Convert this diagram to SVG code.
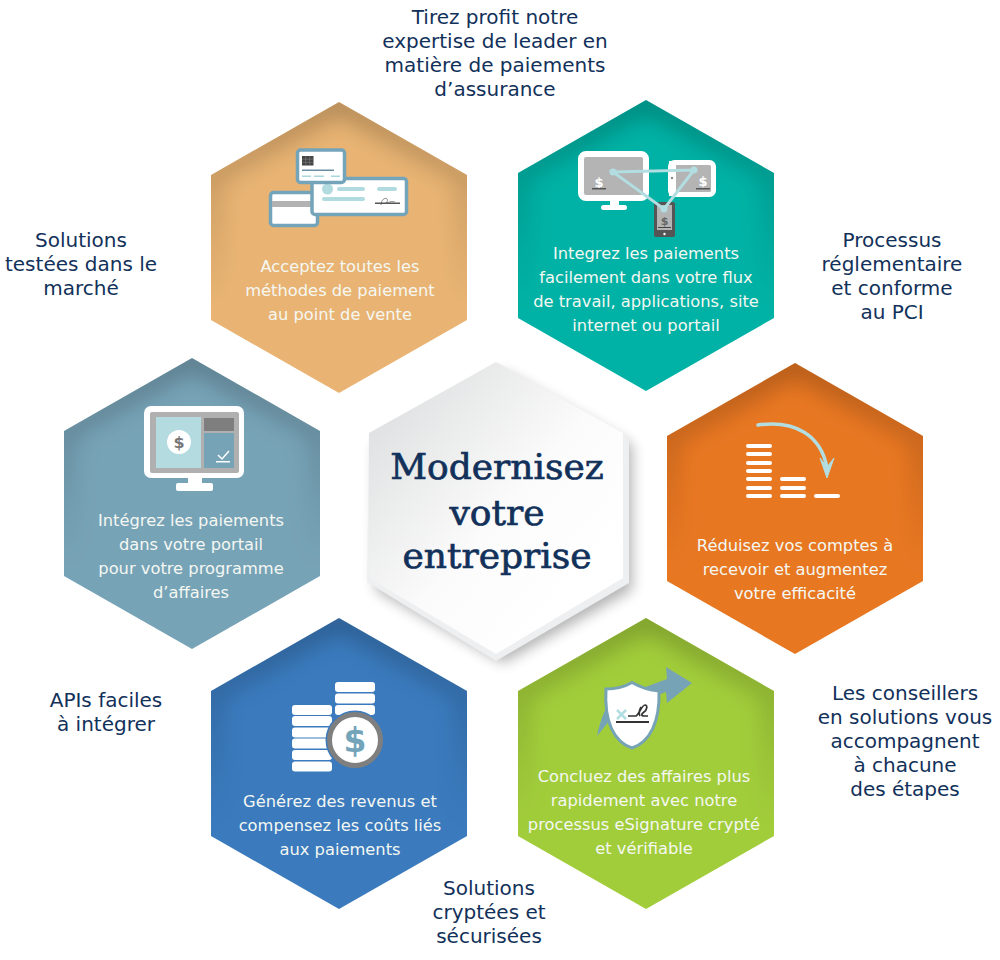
<svg xmlns="http://www.w3.org/2000/svg" width="1000" height="960" viewBox="0 0 1000 960">
<style>
.l{font-family:"DejaVu Sans",Verdana,sans-serif;font-size:20px;fill:#12315a;text-anchor:middle}
.t{font-family:"DejaVu Sans",Verdana,sans-serif;font-size:16.3px;fill:#f4f7f2;text-anchor:middle}
.c{font-family:"DejaVu Serif",serif;font-size:36px;fill:#12315a;stroke:#12315a;stroke-width:.7px;text-anchor:middle}
.d{font-family:"DejaVu Sans",sans-serif;font-weight:bold;text-anchor:middle}
.w{fill:#fff}
</style>
<defs>
<polygon id="hex" points="128,0 256,73 256,218 128,291 0,218 0,73"/>
<clipPath id="hc"><use href="#hex"/></clipPath>
<linearGradient id="edge" x1="0" y1="0" x2="0" y2="1"><stop offset="0" stop-color="#000" stop-opacity=".24"/><stop offset=".4" stop-color="#000" stop-opacity=".1"/><stop offset=".7" stop-color="#000" stop-opacity="0"/></linearGradient>
<filter id="bl" x="-20%" y="-20%" width="140%" height="140%"><feGaussianBlur stdDeviation="11"/></filter>
<linearGradient id="cg" x1="0.1" y1="0.1" x2="0.8" y2="0.8"><stop offset="0" stop-color="#dfe0e1"/><stop offset=".6" stop-color="#fbfbfb"/><stop offset="1" stop-color="#fff"/></linearGradient>
<filter id="sh" x="-20%" y="-20%" width="140%" height="140%"><feGaussianBlur stdDeviation="7"/></filter>
<g id="vig" clip-path="url(#hc)"><use href="#hex" fill="none" stroke="url(#edge)" stroke-width="24" filter="url(#bl)"/></g>
</defs>

<g id="connectors"/>

<g id="label-top"><text class="l" x="495" y="24">Tirez profit notre</text><text class="l" x="495" y="48">expertise de leader en</text><text class="l" x="495" y="72">matière de paiements</text><text class="l" x="495" y="96">d’assurance</text></g>
<g id="label-tl"><text class="l" x="81" y="247">Solutions</text><text class="l" x="81" y="271">testées dans le</text><text class="l" x="81" y="295">marché</text></g>
<g id="label-tr"><text class="l" x="892" y="247">Processus</text><text class="l" x="892" y="271">réglementaire</text><text class="l" x="892" y="295">et conforme</text><text class="l" x="892" y="319">au PCI</text></g>
<g id="label-bl"><text class="l" x="106" y="707">APIs faciles</text><text class="l" x="106" y="731">à intégrer</text></g>
<g id="label-br"><text class="l" x="905" y="700">Les conseillers</text><text class="l" x="905" y="724">en solutions vous</text><text class="l" x="905" y="748">accompagnent</text><text class="l" x="905" y="772">à chacune</text><text class="l" x="905" y="796">des étapes</text></g>
<g id="label-bottom"><text class="l" x="489" y="895">Solutions</text><text class="l" x="489" y="919">cryptées et</text><text class="l" x="489" y="943">sécurisées</text></g>

<g id="node-tan" transform="translate(211,102)">
<use href="#hex" fill="#e9b473"/><use href="#vig"/>
<g transform="translate(-211,-102)">
<rect x="270.500" y="192.500" width="47" height="33" rx="3" fill="#fff" stroke="#74a4ba" stroke-width="3.500"/><rect x="272" y="201" width="44" height="6" fill="#b2b2b2"/>
<rect x="312" y="178.500" width="94.500" height="36" rx="3" fill="#fff" stroke="#74a4ba" stroke-width="3.500"/>
<circle cx="327.500" cy="189" r="5.500" fill="#b2dbe0"/><rect x="337" y="187" width="28" height="4" rx="2" fill="#b2dbe0"/><rect x="377" y="187" width="20" height="4" rx="2" fill="#b2dbe0"/><rect x="322" y="197" width="43" height="4" rx="2" fill="#b2dbe0"/>
<rect x="375" y="202.500" width="25" height="1.500" fill="#555"/><path d="M381 205c0-5 4-8 6-6s-3 5 0 4 3-2 8-1" fill="none" stroke="#555" stroke-width=".7"/>
<rect x="297.500" y="150" width="47" height="32.500" rx="3" fill="#fff" stroke="#74a4ba" stroke-width="3.500"/>
<rect x="302" y="156" width="11.500" height="9.500" fill="#444"/><path d="M305.800 156v9.500M309.700 156v9.500M302 159.200h11.500M302 162.400h11.500" stroke="#888" stroke-width=".5"/><rect x="302" y="169.500" width="32" height="1.500" fill="#6a8fa5"/><rect x="302" y="175.500" width="9" height="1.500" fill="#a9d6dc"/><rect x="314" y="175.500" width="10" height="1.500" fill="#a9d6dc"/><rect x="331" y="175.500" width="9" height="1.500" fill="#a9d6dc"/>
</g>
<g transform="translate(-211,-102)"><text class="t" x="340" y="272">Acceptez toutes les</text><text class="t" x="340" y="296">méthodes de paiement</text><text class="t" x="340" y="320">au point de vente</text></g>
</g>

<g id="node-teal" transform="translate(518,100)">
<use href="#hex" fill="#00b2a5"/><use href="#vig"/>
<g transform="translate(-518,-100)">
<rect x="581" y="154" width="65" height="44" rx="5" fill="#b4b4b4" stroke="#fff" stroke-width="6"/><rect x="610" y="201" width="9" height="6" class="w"/><rect x="601" y="205" width="26" height="5" rx="2.500" class="w"/>
<text class="d" x="599" y="187" font-size="13" fill="#fff">$</text><rect x="592" y="188" width="14" height="1.500" fill="#555"/>
<rect x="670.500" y="162.500" width="43" height="32" rx="4" fill="#b4b4b4" stroke="#fff" stroke-width="5"/><rect x="669" y="161" width="7" height="35" class="w"/><circle cx="672" cy="178" r="1.200" fill="#888"/>
<text class="d" x="703" y="186" font-size="13" fill="#fff">$</text><rect x="696" y="188" width="14" height="1.500" fill="#555"/>
<rect x="654" y="202" width="21" height="35" rx="2" fill="#555"/><rect x="657" y="205" width="15" height="25" fill="#b4b4b4"/><circle cx="664.500" cy="234" r="1.200" class="w"/>
<text class="d" x="664.500" y="225" font-size="11" fill="#666">$</text><rect x="658" y="227" width="13" height="1" fill="#444"/>
<path d="M613 172L694 170L664 209Z" fill="none" stroke="#b2dde1" stroke-width="3"/><circle cx="613" cy="172" r="3.500" fill="#b2dde1"/><circle cx="694" cy="170" r="3.500" fill="#b2dde1"/><circle cx="664" cy="209" r="3.500" fill="#b2dde1"/>
</g>
<g transform="translate(-518,-100)"><text class="t" x="646" y="259">Integrez les paiements</text><text class="t" x="646" y="283">facilement dans votre flux</text><text class="t" x="646" y="307">de travail, applications, site</text><text class="t" x="646" y="331">internet ou portail</text></g>
</g>

<g id="node-slate" transform="translate(64,358)">
<use href="#hex" fill="#77a3b7"/><use href="#vig"/>
<g transform="translate(-64,-358)">
<rect x="144" y="406" width="100" height="72" rx="7" class="w"/>
<rect x="150" y="412" width="89" height="61" rx="2" fill="#b0b0b0"/>
<rect x="156" y="417" width="45" height="51" fill="#b3dbe0"/><rect x="204" y="418" width="30" height="13" fill="#7e7e7e"/><rect x="204" y="433" width="30" height="35" fill="#77a3b7"/>
<rect x="188" y="477" width="14" height="7" class="w"/><rect x="176" y="483" width="37" height="8" rx="2" class="w"/>
<circle cx="179" cy="442" r="12" class="w"/><text class="d" x="179" y="448" font-size="16" fill="#777">$</text>
<path d="M218 455l4 4l7-8" fill="none" stroke="#fff" stroke-width="1.500"/><rect x="216" y="461" width="14" height="1.500" class="w"/>
</g>
<g transform="translate(-64,-358)"><text class="t" x="191" y="526">Intégrez les paiements</text><text class="t" x="191" y="550">dans votre portail</text><text class="t" x="191" y="574">pour votre programme</text><text class="t" x="191" y="598">d’affaires</text></g>
</g>

<g id="node-orange" transform="translate(667,363)">
<use href="#hex" fill="#e87722"/><use href="#vig"/>
<g transform="translate(-667,-363)">
<g class="w">
<rect x="746" y="444" width="26" height="4" rx="2"/><rect x="746" y="452" width="26" height="4" rx="2"/><rect x="746" y="461" width="26" height="4" rx="2"/><rect x="746" y="469" width="26" height="4" rx="2"/><rect x="746" y="477" width="26" height="4" rx="2"/><rect x="746" y="486" width="26" height="4" rx="2"/><rect x="746" y="494" width="26" height="4" rx="2"/>
<rect x="780" y="477" width="26" height="4" rx="2"/><rect x="780" y="486" width="26" height="4" rx="2"/><rect x="780" y="494" width="26" height="4" rx="2"/><rect x="814" y="494" width="26" height="4" rx="2"/>
</g>
<path d="M758 425C795 420 821 435 827 468" fill="none" stroke="#b2dde1" stroke-width="3.500" stroke-linecap="round"/>
<path d="M820 458L827 478L834 458L827 467Z" fill="#b2dde1" stroke="#b2dde1" stroke-linejoin="round"/>
</g>
<g transform="translate(-667,-363)"><text class="t" x="795" y="551">Réduisez vos comptes à</text><text class="t" x="795" y="575">recevoir et augmentez</text><text class="t" x="795" y="599">votre efficacité</text></g>
</g>

<g id="node-blue" transform="translate(211,618)">
<use href="#hex" fill="#3a7abd"/><use href="#vig"/>
<g transform="translate(-211,-618)">
<g class="w">
<rect x="335" y="682" width="40" height="10" rx="3"/><rect x="335" y="693.500" width="40" height="10" rx="3"/><rect x="335" y="705" width="40" height="10" rx="3"/>
<rect x="292" y="705" width="40" height="10" rx="3"/><rect x="292" y="716" width="40" height="10" rx="3"/><rect x="292" y="727.500" width="40" height="10" rx="3"/><rect x="292" y="738.500" width="40" height="10" rx="3"/><rect x="292" y="750" width="40" height="10" rx="3"/><rect x="292" y="761.500" width="40" height="10" rx="3"/>
</g>
<circle cx="355" cy="740" r="29.500" fill="#3a7abd"/><circle cx="355" cy="740" r="25.500" fill="#fff" stroke="#7f7f7f" stroke-width="5"/>
<text class="d" x="355" y="752" font-size="33" fill="#74a4ba">$</text>
</g>
<g transform="translate(-211,-618)"><text class="t" x="340" y="807">Générez des revenus et</text><text class="t" x="340" y="831">compensez les coûts liés</text><text class="t" x="340" y="855">aux paiements</text></g>
</g>

<g id="node-green" transform="translate(518,618)">
<use href="#hex" fill="#a2cd3a"/><use href="#vig"/>
<g transform="translate(-518,-618)">
<path d="M597 736C600 722 604 710 612 698L640 689L667 679L666 667L692 683L667 703L666 692L645 700L610 720Z" fill="#77a3b7"/>
<path d="M606 689C616 689 626 686 632 682.500C638 686 648 690 659 691C660 722 650 742 632 748C614 742 604 722 606 689Z" fill="#fff" stroke="#77a3b7" stroke-width="3"/>
<path d="M617 710l9 9m0-9l-9 9" stroke="#b2dde1" stroke-width="2.500" fill="none"/>
<rect x="616" y="721" width="33" height="2" fill="#333"/>
<path d="M628 716h8c3-2 6-11 9-11s2 5-1 7-3 4 0 4h4M640 716c-2-3 0-7 1-9" fill="none" stroke="#333" stroke-width="1.700"/>
</g>
<g transform="translate(-518,-618)"><text class="t" x="644" y="782">Concluez des affaires plus</text><text class="t" x="644" y="806">rapidement avec notre</text><text class="t" x="644" y="830">processus eSignature crypté</text><text class="t" x="644" y="854">et vérifiable</text></g>
</g>

<g id="node-center">
<polygon points="503,372 632,445 632,590 503,663 376,590 376,445" fill="#000" opacity=".3" filter="url(#sh)"/>
<polygon points="498,364 629,439 629,583 496,661 367,582 369,433" fill="#eeeff0"/>
<polygon points="496,362 623,433 623,578 496,654 369,578 369,433" fill="url(#cg)"/>
<text class="c" x="497" y="479">Modernisez</text><text class="c" x="497" y="525">votre</text><text class="c" x="497" y="568">entreprise</text>
</g>
</svg>
